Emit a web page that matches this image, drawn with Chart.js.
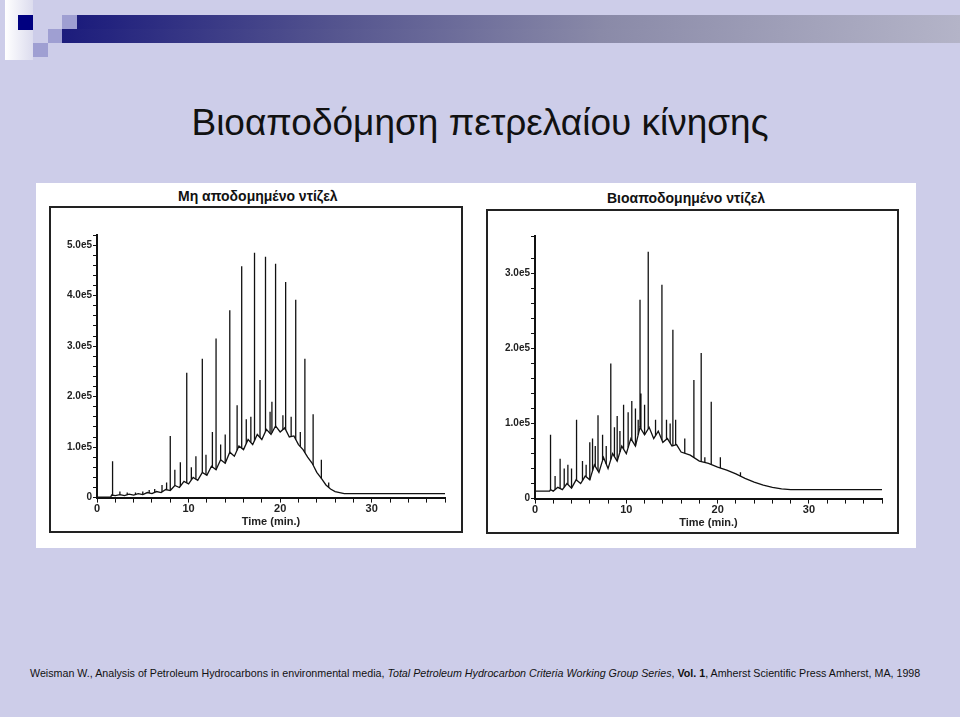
<!DOCTYPE html>
<html>
<head>
<meta charset="utf-8">
<script src="https://cdn.jsdelivr.net/npm/chart.js@4.4.0/dist/chart.umd.min.js"></script>
<style>
  body { margin: 0; width: 960px; height: 717px; background: #cdcde9; position: relative; overflow: hidden; font-family: "Liberation Sans", Arial, sans-serif; }
  .abs { position: absolute; }
  .bar { background: linear-gradient(to right, #1c1c7c, #55558f 30%, #8a8aa8 60%, #b4b4c8); }
  #title { left: 0; width: 960px; top: 102px; text-align: center; font-size: 37px; color: #111; }
  #panel { left: 36px; top: 183px; width: 880px; height: 365px; background: #fff; }
  .frame { border: 2px solid #222; box-sizing: border-box; }
  .ctitle { background: #fff; font-weight: bold; font-size: 14px; color: #111; padding: 0 4px; }
  #foot { left: 30px; top: 667px; font-size: 10.7px; color: #111; white-space: nowrap; }
</style>
</head>
<body>
<div class="abs" style="left:5px;top:0;width:28px;height:60px;background:linear-gradient(to right,#fff,#dcdcee)"></div>
<div class="abs" style="left:18px;top:15px;width:15px;height:15px;background:#000080"></div>
<div class="abs bar" style="left:77px;top:15px;width:883px;height:14px"></div>
<div class="abs bar" style="left:62px;top:29px;width:898px;height:14px"></div>
<div class="abs" style="left:62px;top:15px;width:15px;height:14px;background:#9f9fd2"></div>
<div class="abs" style="left:48px;top:29px;width:14px;height:14px;background:#9f9fd2"></div>
<div class="abs" style="left:33px;top:43px;width:15px;height:14px;background:#9f9fd2"></div>

<div id="title" class="abs">Βιοαποδόμηση πετρελαίου κίνησης</div>

<div id="panel" class="abs"></div>
<div class="abs frame" style="left:49px;top:206px;width:414px;height:327px"><canvas id="left"></canvas></div>
<div class="abs ctitle" style="left:174px;top:188px">Μη αποδομημένο ντίζελ</div>
<div class="abs frame" style="left:486px;top:209px;width:413px;height:325px"><canvas id="right"></canvas></div>
<div class="abs ctitle" style="left:603px;top:190px">Βιοαποδομημένο ντίζελ</div>

<div id="foot" class="abs">Weisman W., Analysis of Petroleum Hydrocarbons in environmental media, <i>Total Petroleum Hydrocarbon Criteria Working Group Series</i>, <b>Vol. 1</b>, Amherst Scientific Press Amherst, MA, 1998</div>

<script>
// signal values in units of 1e5
const leftTime = [0, 1.5, 1.6, 2, 2.5, 3, 3.5, 4, 4.5, 5, 5.5, 6, 6.5, 7, 7.5, 8, 8.5, 9, 9.5, 10, 10.5, 11, 11.5, 12, 12.5, 13, 13.5, 14, 14.5, 15, 15.5, 16, 16.5, 17, 17.5, 18, 18.5, 19, 19.5, 20, 20.5, 21, 21.5, 22, 22.5, 23, 23.5, 24, 24.5, 25, 25.5, 26, 26.5, 27, 28, 30, 38];
const leftBase = [0.01, 0.01, 0.05, 0.04, 0.06, 0.04, 0.07, 0.05, 0.08, 0.06, 0.1, 0.08, 0.12, 0.1, 0.16, 0.14, 0.24, 0.2, 0.32, 0.27, 0.4, 0.34, 0.5, 0.44, 0.62, 0.55, 0.75, 0.68, 0.9, 0.82, 1.02, 0.95, 1.15, 1.05, 1.25, 1.15, 1.35, 1.25, 1.42, 1.3, 1.38, 1.2, 1.22, 1.05, 0.95, 0.8, 0.68, 0.5, 0.38, 0.25, 0.17, 0.12, 0.1, 0.08, 0.08, 0.08, 0.08];
const leftPeakTime = [1.7, 2.5, 3.3, 4.2, 5, 5.7, 6.3, 7.1, 7.6, 8.0, 8.5, 9.1, 9.8, 10.3, 10.8, 11.5, 11.9, 12.6, 13.0, 13.5, 14.0, 14.5, 15.3, 15.8, 16.3, 16.8, 17.2, 17.8, 18.4, 18.9, 19.1, 19.5, 20.3, 20.6, 21.2, 21.7, 22.2, 22.7, 23.6, 24.5, 25.3];
const leftPeakHeight = [0.72, 0.12, 0.1, 0.1, 0.12, 0.15, 0.17, 0.25, 0.3, 1.22, 0.55, 0.7, 2.47, 0.6, 0.82, 2.75, 0.85, 1.3, 3.15, 1.05, 1.25, 3.71, 1.83, 4.58, 1.55, 1.6, 4.85, 2.33, 4.77, 1.7, 1.9, 4.63, 1.63, 4.27, 1.6, 3.92, 1.3, 2.75, 1.65, 0.75, 0.3];

const rightTime = [0, 1.6, 1.7, 2, 2.5, 3, 3.5, 4, 4.5, 5, 5.5, 6, 6.5, 7, 7.5, 8, 8.5, 9, 9.5, 10, 10.5, 11, 11.5, 12, 12.5, 13, 13.5, 14, 14.5, 15, 15.5, 16, 17, 18, 19, 20, 21, 22, 23, 24, 25, 26, 27, 28, 30, 38];
const rightBase = [0.1, 0.1, 0.12, 0.1, 0.15, 0.12, 0.2, 0.14, 0.25, 0.2, 0.3, 0.25, 0.45, 0.35, 0.55, 0.4, 0.6, 0.5, 0.7, 0.6, 0.8, 0.7, 0.95, 0.85, 0.95, 0.8, 0.9, 0.75, 0.8, 0.7, 0.72, 0.62, 0.58, 0.5, 0.47, 0.42, 0.38, 0.33, 0.27, 0.22, 0.18, 0.15, 0.13, 0.12, 0.12, 0.12];
const rightPeakTime = [1.7, 2.2, 2.75, 3.2, 3.6, 4.0, 4.55, 5.2, 5.6, 6.0, 6.3, 6.6, 6.9, 7.4, 7.8, 8.3, 8.7, 9.0, 9.3, 9.7, 10.2, 10.6, 11.0, 11.3, 11.5, 11.6, 12.0, 12.4, 13.2, 13.9, 14.4, 14.8, 15.1, 15.4, 16.4, 17.4, 18.2, 18.6, 19.3, 20.3, 22.5];
const rightPeakHeight = [0.85, 0.3, 0.53, 0.4, 0.45, 0.4, 1.05, 0.5, 0.45, 0.75, 0.8, 0.7, 1.11, 0.85, 0.7, 1.8, 0.95, 1.1, 0.9, 1.25, 1.15, 1.3, 1.2, 1.05, 2.65, 1.4, 1.25, 3.29, 1.05, 2.85, 1.05, 1.0, 2.25, 1.05, 0.8, 1.58, 1.94, 0.55, 1.29, 0.55, 0.35];

function baseAt(times, vals, t) {
    for (let i = 1; i < times.length; i++) {
        if (t <= times[i]) {
            const f = (t - times[i - 1]) / (times[i] - times[i - 1]);
            return vals[i - 1] + f * (vals[i] - vals[i - 1]);
        }
    }
    return vals[vals.length - 1];
}

function drawChromatogram(id, times, base, peakT, peakH, yMax, pad) {
    const line = times.map((t, i) => ({ x: t, y: base[i] }));
    const spikes = [];
    peakT.forEach((t, i) => {
        spikes.push({ x: t, y: baseAt(times, base, t) }, { x: t, y: peakH[i] }, { x: t, y: null });
    });
    const ds = d => ({ data: d, borderColor: '#111', borderWidth: 1.3, pointRadius: 0, tension: 0, spanGaps: false });
    new Chart(document.getElementById(id), {
        type: 'line',
        data: { datasets: [ds(line), ds(spikes)] },
        options: {
            responsive: true,
            maintainAspectRatio: false,
            animation: false,
            layout: { padding: pad },
            plugins: { legend: { display: false }, tooltip: { enabled: false } },
            scales: {
                x: {
                    type: 'linear', min: 0, max: 38,
                    border: { color: '#111', width: 2 },
                    grid: { drawOnChartArea: false, color: '#111', tickLength: 5 },
                    ticks: {
                        stepSize: 2, maxRotation: 0, autoSkip: false, padding: 0,
                        color: '#222', font: { size: 11, weight: 'bold', family: 'Liberation Sans' },
                        callback: v => (v % 10 === 0 && v <= 30) ? String(v) : ''
                    },
                    title: { display: true, text: 'Time (min.)', color: '#222', padding: 0,
                        font: { size: 11, weight: 'bold', family: 'Liberation Sans' } }
                },
                y: {
                    min: 0, max: yMax,
                    border: { color: '#111', width: 2 },
                    grid: { drawOnChartArea: false, color: '#111', tickLength: 4 },
                    afterFit: s => { s.width = 46; },
                    ticks: {
                        stepSize: 0.2, autoSkip: false, padding: 1,
                        color: '#222', font: { size: 10, weight: 'bold', family: 'Liberation Sans' },
                        callback: v => {
                            const r = Math.round(v * 10) / 10;
                            if (Math.abs(v - r) > 1e-6 || Math.round(r * 10) % 10 !== 0) return '';
                            return r === 0 ? '0' : r.toFixed(1) + 'e5';
                        }
                    }
                }
            }
        }
    });
}

drawChromatogram('left', leftTime, leftBase, leftPeakTime, leftPeakHeight, 5.2, { top: 27, right: 16, bottom: 2, left: 0 });
drawChromatogram('right', rightTime, rightBase, rightPeakTime, rightPeakHeight, 3.5, { top: 25, right: 15, bottom: 2, left: 1 });
</script>
</body>
</html>
